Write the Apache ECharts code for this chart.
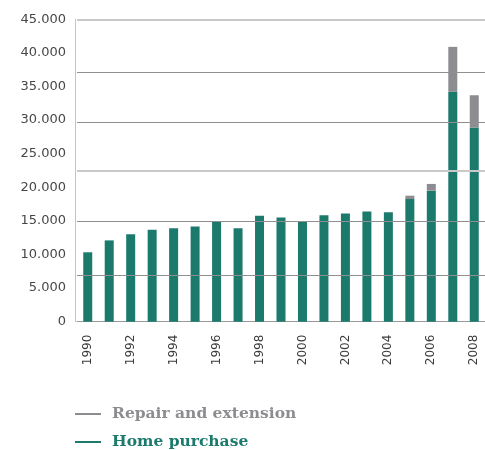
<!DOCTYPE html>
<html>
<head>
<meta charset="utf-8">
<script src="https://cdn.jsdelivr.net/npm/echarts@6/dist/echarts.min.js"></script>
<style>
  html, body { margin: 0; padding: 0; background: #fff; }
  #chart { width: 485px; height: 450px; }
</style>
</head>
<body>
<div id="chart"></div>
<script>
// Loans by purpose, per year
const years = ['1990','1991','1992','1993','1994','1995','1996','1997','1998','1999',
               '2000','2001','2002','2003','2004','2005','2006','2007','2008'];
const homePurchase = [10330,12100,13000,13700,13900,14150,14850,13900,15750,15500,
                      14900,15850,16100,16400,16300,18250,19500,34200,28900];
const repairExtension = [0,0,0,0,0,0,0,0,0,0,
                         0,0,0,0,0,500,1000,6700,4800];
// Horizontal reference lines across the plot
const darkRuleValues = [6900, 14950, 29700, 37150];
const lightRuleValues = [22400, 45000];

const GREEN = '#1c7a6d';
const GREY = '#8d8d91';

const chart = echarts.init(document.getElementById('chart'), null, { renderer: 'canvas' });

const rules = darkRuleValues.map(v => ({ yAxis: v, lineStyle: { color: '#8f8f8f', width: 1, type: 'solid' } }))
  .concat(lightRuleValues.map(v => ({ yAxis: v, lineStyle: { color: '#c9c9c9', width: 2, type: 'solid' } })));

chart.setOption({
  animation: false,
  grid: { left: 77, width: 412, top: 19.3, bottom: 128.3, containLabel: false },
  xAxis: {
    type: 'category',
    data: years,
    axisLine: { lineStyle: { color: '#9a9a9a', width: 1 } },
    axisTick: { show: false },
    axisLabel: {
      interval: 1,
      rotate: 90,
      color: '#3a3a3a',
      fontFamily: 'DejaVu Sans',
      fontSize: 12,
      margin: 13
    }
  },
  yAxis: {
    type: 'value',
    min: 0,
    max: 45000,
    interval: 5000,
    offset: 2,
    axisLine: { show: true, lineStyle: { color: '#c4c4c4', width: 1 } },
    axisTick: { show: false },
    splitLine: { show: false },
    axisLabel: {
      color: '#474747',
      fontFamily: 'DejaVu Sans',
      fontSize: 13,
      margin: 9,
      formatter: v => v === 0 ? '0' : (v / 1000).toFixed(3)
    }
  },
  legend: {
    orient: 'vertical',
    left: 75,
    top: 406,
    height: 44,
    padding: 0,
    itemWidth: 26,
    itemHeight: 2,
    itemGap: 12,
    icon: 'rect',
    data: [
      { name: 'Repair and extension', textStyle: { color: GREY } },
      { name: 'Home purchase', textStyle: { color: GREEN } }
    ],
    textStyle: {
      fontFamily: 'DejaVu Serif',
      fontWeight: 'bold',
      fontSize: 15.5,
      lineHeight: 16,
      padding: [0, 0, 0, 6]
    }
  },
  series: [
    {
      name: 'rules',
      type: 'line',
      data: [],
      z: 1,
      silent: true,
      markLine: { silent: true, symbol: 'none', label: { show: false }, data: rules }
    },
    {
      name: 'Home purchase',
      type: 'bar',
      stack: 'loans',
      barWidth: 9,
      z: 2,
      itemStyle: { color: GREEN },
      data: homePurchase
    },
    {
      name: 'Repair and extension',
      type: 'bar',
      stack: 'loans',
      barWidth: 9,
      z: 2,
      itemStyle: { color: GREY },
      data: repairExtension
    }
  ]
});
</script>
</body>
</html>
